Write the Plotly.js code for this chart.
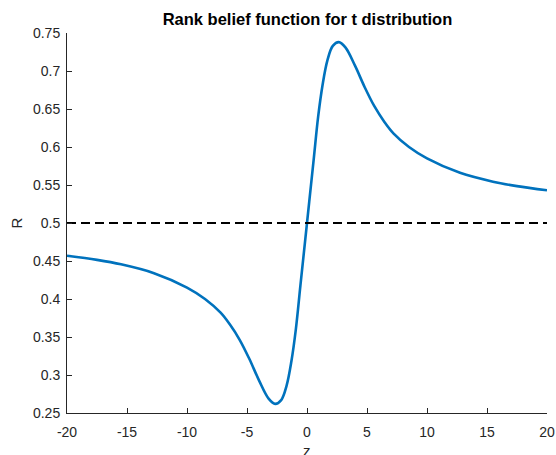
<!DOCTYPE html>
<html>
<head>
<meta charset="utf-8">
<script src="https://cdn.plot.ly/plotly-3.0.1.min.js"></script>
<style>html,body{margin:0;padding:0;background:#fff;}#plot{width:556px;height:455px;}</style>
</head>
<body>
<div id="plot"></div>
<script>
const zVals = [-20,-17.5,-15.5,-12.75,-10,-8.5,-7.2,-6.45,-5.6,-4.8,-4.0,-3.2,-2.65,-2.15,-1.7,-1.3,-0.93,-0.55,0,0.55,0.93,1.3,1.7,2.15,2.65,3.2,4.0,4.8,5.6,6.45,7.2,8.5,10,12.75,15.5,17.5,20];
const rVals = [0.457,0.4515,0.4456,0.434,0.415,0.400,0.382,0.367,0.346,0.321,0.293,0.269,0.262,0.267,0.286,0.318,0.360,0.4175,0.5,0.5825,0.640,0.682,0.714,0.733,0.738,0.731,0.707,0.679,0.654,0.633,0.618,0.600,0.585,0.566,0.5544,0.5485,0.543];
const refX = [-20, 20];
const refY = [0.5, 0.5];
const xTicks = [-20,-15,-10,-5,0,5,10,15,20];
const xTickText = ["-20","-15","-10","-5","0","5","10","15","20"];
const yTicks = [0.25,0.3,0.35,0.4,0.45,0.5,0.55,0.6,0.65,0.7,0.75];
const yTickText = ["0.25","0.3","0.35","0.4","0.45","0.5","0.55","0.6","0.65","0.7","0.75"];

const font = "Liberation Sans, Arial, Helvetica, sans-serif";
const axisColor = "#262626";

const traces = [
  {x: zVals, y: rVals, type: "scatter", mode: "lines",
   line: {color: "#0072BD", width: 2.6, shape: "spline", smoothing: 1}, hoverinfo: "skip"},
  {x: refX, y: refY, type: "scatter", mode: "lines",
   line: {color: "#000000", width: 2, dash: "9px,5px"}, hoverinfo: "skip"}
];

const layout = {
  width: 556, height: 455,
  margin: {l: 67, r: 9, t: 33, b: 42, pad: 0},
  paper_bgcolor: "#ffffff", plot_bgcolor: "#ffffff",
  showlegend: false,
  font: {family: font, size: 14, color: axisColor},
  title: {text: "<b>Rank belief function for t distribution</b>", font: {family: font, size: 16.5, color: "#000000"},
          x: 0.553, xanchor: "center", y: 0.958, yanchor: "middle"},
  xaxis: {range: [-20, 20], tickvals: xTicks, ticktext: xTickText, ticks: "inside", ticklen: 5,
          tickcolor: axisColor, tickwidth: 1, showline: true, linecolor: axisColor, linewidth: 1,
          showgrid: false, zeroline: false, mirror: false, ticklabelstandoff: 6,
          tickfont: {family: font, size: 14, color: axisColor}},
  yaxis: {range: [0.25, 0.75], tickvals: yTicks, ticktext: yTickText, ticks: "inside", ticklen: 5,
          tickcolor: axisColor, tickwidth: 1, showline: true, linecolor: axisColor, linewidth: 1,
          showgrid: false, zeroline: false, mirror: false, ticklabelstandoff: 3,
          tickfont: {family: font, size: 14, color: axisColor},
          title: {text: "R", font: {family: font, size: 15, color: axisColor}, standoff: 6}},
  annotations: [
    {text: "z", xref: "paper", yref: "paper", x: 0.5, y: 0, xanchor: "center", yanchor: "top",
     yshift: -27, showarrow: false, font: {family: font, size: 15, color: axisColor}}
  ]
};

Plotly.newPlot("plot", traces, layout, {staticPlot: true, displayModeBar: false});
</script>
</body>
</html>
